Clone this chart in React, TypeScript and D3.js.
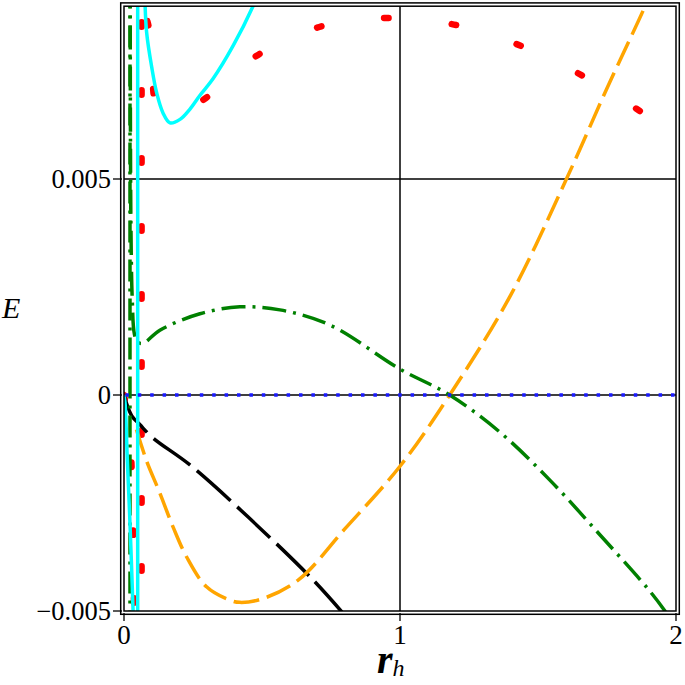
import React from "react";
import * as d3 from "d3";

// ---- axes ----
const xDomain: [number, number] = [0, 2];
const yDomain: [number, number] = [-0.005, 0.009];
const xTicks = [0, 1, 2];
const yTicks = [-0.005, 0, 0.005];
const xTickLabels = ["0", "1", "2"];
const yTickLabels = ["\u22120.005", "0", "0.005"];
const xGrid = [1];
const yGrid = [0, 0.005];

// ---- black long-dash ----
const blackR = [0, 0.011, 0.029, 0.058, 0.105, 0.239, 0.449, 0.685, 0.8];
const blackE = [0, -0.00023, -0.00049, -0.00069, -0.000995, -0.00162, -0.00282, -0.00428, -0.0051];

// ---- orange dashed ----
const orangeR = [0.045, 0.082, 0.13, 0.178, 0.227, 0.299, 0.384, 0.42, 0.5, 0.632, 0.8, 1.0, 1.18, 1.4, 1.603, 1.75, 1.888, 1.92];
const orangeE = [-0.0008, -0.00153, -0.00227, -0.00306, -0.00375, -0.00444, -0.00475, -0.0048, -0.00472, -0.00428, -0.0031, -0.00165, 0, 0.0023, 0.005, 0.0071, 0.009, 0.0095];

// ---- green dash-dot ----
const greenPole = 0.0217;
const greenR = [0.0225, 0.025, 0.03, 0.038, 0.05, 0.07, 0.13, 0.275, 0.42, 0.565, 0.746, 1.0, 1.18, 1.362, 1.543, 1.725, 1.9, 1.96, 2.0];
const greenE = [0.0095, 0.004, 0.0022, 0.0014, 0.00122, 0.0012, 0.0015, 0.00188, 0.00204, 0.00197, 0.00162, 0.0006, 0, -0.00086, -0.00197, -0.00324, -0.0045, -0.005, -0.0054];

// ---- cyan solid ----
const cyanPole = 0.0496;
const cyanLeftR = [0, 0.004, 0.012, 0.02, 0.027, 0.034];
const cyanLeftE = [0, -0.0002, -0.0015, -0.0027, -0.0039, -0.0052];
const cyanRightR = [0.0755, 0.0822, 0.1004, 0.1185, 0.1413, 0.1667, 0.2029, 0.2391, 0.2754, 0.3225, 0.395, 0.4674, 0.48];
const cyanRightE = [0.0092, 0.00838, 0.00759, 0.00699, 0.00653, 0.0063, 0.00638, 0.00662, 0.00694, 0.00732, 0.00808, 0.009, 0.0092];

// ---- red dotted ----
const redPole = 0.0637;
const redLeftR = [0, 0.008, 0.018, 0.027, 0.032, 0.035, 0.037];
const redLeftE = [0, -0.0003, -0.0008, -0.0016, -0.0028, -0.0042, -0.0052];
const redRightR = [0.068, 0.075, 0.094, 0.109, 0.14, 0.18, 0.268, 0.456, 0.673, 0.926, 1.165, 1.403, 1.624, 1.841, 2.0];
const redRightE = [0.0092, 0.0089, 0.0083, 0.0069, 0.0066, 0.00655, 0.00676, 0.00775, 0.00845, 0.00873, 0.00861, 0.00817, 0.00752, 0.00669, 0.006];

// ---- blue dotted ----
const blueR = [0, 2];
const blueE = [0, 0];

const zip = (a: number[], b: number[]) => a.map((v, i) => [v, b[i]] as [number, number]);

export default function App() {
  const W = 685, H = 685;
  const x = d3.scaleLinear().domain(xDomain).range([124, 676]);
  const y = d3.scaleLinear().domain(yDomain).range([611, 6.2]);
  const curve = d3.line<[number, number]>().x(d => x(d[0])).y(d => y(d[1])).curve(d3.curveCatmullRom.alpha(0.5));
  const mono = d3.line<[number, number]>().x(d => x(d[0])).y(d => y(d[1])).curve(d3.curveMonotoneX);
  const straight = d3.line<[number, number]>().x(d => x(d[0])).y(d => y(d[1]));
  const vert = (r: number, fromTop: boolean) =>
    straight(fromTop ? [[r, yDomain[1]], [r, yDomain[0] - 0.0005]] : [[r, yDomain[0] - 0.0005], [r, yDomain[1] + 0.0005]]) || "";

  const x0 = x(xDomain[0]), x1 = x(xDomain[1]);
  const y0 = y(yDomain[0]), y1 = y(yDomain[1]);
  const font = "'Liberation Serif', 'Times New Roman', serif";

  return (
    <svg width={W} height={H} style={{ position: "absolute", left: 0, top: 0, background: "#fff" }}>
      <defs>
        <clipPath id="plotclip">
          <rect x={x0} y={y1} width={x1 - x0} height={y0 - y1} />
        </clipPath>
      </defs>
      <rect x={0} y={0} width={W} height={H} fill="#fff" />
      {/* grid */}
      {xGrid.map(g => (
        <line key={"xg" + g} x1={x(g)} x2={x(g)} y1={y1} y2={y0} stroke="#000" strokeWidth={1.5} />
      ))}
      {yGrid.map(g => (
        <line key={"yg" + g} x1={x0} x2={x1} y1={y(g)} y2={y(g)} stroke="#000" strokeWidth={1.5} />
      ))}
      <g clipPath="url(#plotclip)" fill="none">
        {/* red */}
        <path d={mono(zip(redLeftR, redLeftE)) || ""} stroke="#ff0000" strokeWidth={6.5} strokeDasharray="4.5 63.5" strokeLinecap="round" />
        <path d={vert(redPole, true)} stroke="#ff0000" strokeWidth={6.5} strokeDasharray="4.5 63.5" strokeDashoffset={52} strokeLinecap="round" />
        <path d={mono(zip(redRightR, redRightE)) || ""} stroke="#ff0000" strokeWidth={6.5} strokeDasharray="4.5 63.5" strokeDashoffset={44} strokeLinecap="round" />
        {/* black */}
        <path d={curve(zip(blackR, blackE)) || ""} stroke="#000" strokeWidth={3.5} strokeDasharray="45 9" />
        {/* orange */}
        <path d={curve(zip(orangeR, orangeE)) || ""} stroke="#ffa500" strokeWidth={3.5} strokeDasharray="26 8" />
        {/* green */}
        <path d={vert(greenPole, false)} stroke="#008000" strokeWidth={3.5} strokeDasharray="22 7 3 7" />
        <path d={curve(zip(greenR, greenE)) || ""} stroke="#008000" strokeWidth={3.5} strokeDasharray="24 7 3 7" />
        {/* cyan */}
        <path d={curve(zip(cyanLeftR, cyanLeftE)) || ""} stroke="#00ffff" strokeWidth={3.5} />
        <path d={vert(cyanPole, false)} stroke="#00ffff" strokeWidth={3.5} />
        <path d={curve(zip(cyanRightR, cyanRightE)) || ""} stroke="#00ffff" strokeWidth={3.5} />
        {/* blue */}
        <path d={straight(zip(blueR, blueE)) || ""} stroke="#1a1aff" strokeWidth={3.5} strokeDasharray="3.5 8.9" strokeDashoffset={11} />
      </g>
      {/* frame */}
      <rect x={x0} y={y1} width={x1 - x0} height={y0 - y1} fill="none" stroke="#000" strokeWidth={1.5} />
      <rect x={x0 - 3.3} y={y1 - 3.3} width={x1 - x0 + 6.6} height={y0 - y1 + 6.6} fill="none" stroke="#000" strokeWidth={1.5} />
      {/* ticks */}
      {xTicks.map((t, i) => (
        <g key={"xt" + t}>
          <line x1={x(t)} x2={x(t)} y1={y0 + 2} y2={y0 + 10} stroke="#000" strokeWidth={1.3} />
          <text x={x(t)} y={644} textAnchor="middle" fontFamily={font} fontSize={27}>{xTickLabels[i]}</text>
        </g>
      ))}
      {yTicks.map((t, i) => (
        <g key={"yt" + t}>
          <line x1={x0 - 11} x2={x0 - 2} y1={y(t)} y2={y(t)} stroke="#000" strokeWidth={1.3} />
          <text x={111} y={y(t) + 9} textAnchor="end" fontFamily={font} fontSize={26.5}>{yTickLabels[i]}</text>
        </g>
      ))}
      {/* axis labels */}
      <text x={2} y={318} fontFamily={font} fontSize={30} fontStyle="italic">E</text>
      <text x={377} y={673} fontFamily={font} fontStyle="italic">
        <tspan fontSize={40} fontWeight="bold">r</tspan>
        <tspan fontSize={24} dy={3}>h</tspan>
      </text>
    </svg>
  );
}
